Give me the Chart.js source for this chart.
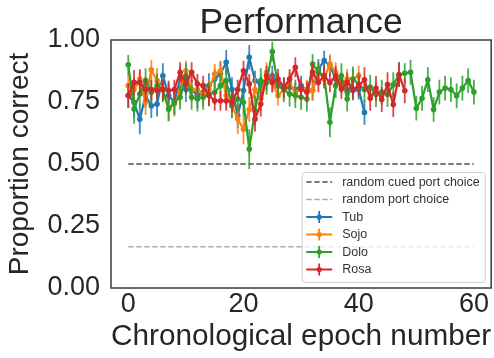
<!DOCTYPE html>
<html><head><meta charset="utf-8">
<script src="https://cdn.jsdelivr.net/npm/chart.js@4.4.1/dist/chart.umd.min.js"></script>
<style>html,body{margin:0;padding:0;background:#fff;}</style>
</head><body>
<canvas id="c" width="494" height="358"></canvas>
<script>
// ---- data ----
const titleText = 'Performance';
const xLabel = 'Chronological epoch number';
const yLabel = 'Proportion correct';
const xTicks = [0, 20, 40, 60];
const yTicks = [0, 0.25, 0.5, 0.75, 1.0];
const seriesNames = ['Tub', 'Sojo', 'Dolo', 'Rosa'];
const refNames = ['random cued port choice', 'random port choice'];
const refValues = [0.5, 1/6];
const refRange = [0, 60];

const tub = [0.776,0.749,0.680,0.776,0.735,0.742,0.856,0.776,0.749,0.843,
 0.800,0.800,0.776,0.789,0.816,0.843,0.863,0.910,0.800,0.695,
 0.796,0.930,0.836,0.816,0.836,0.856,0.816,0.800,0.809,0.800,
 0.816,0.796,0.796,0.883,0.917,0.896,0.843,0.829,0.800,0.796,
 0.800,0.708];
const sojo = [0.816,0.800,0.843,0.749,0.880,0.836,0.800,0.722,0.742,0.789,
 0.876,0.800,0.800,0.782,0.800,0.863,0.876,0.776,0.735,0.681,
 0.640,0.720,0.800,0.762,0.870,0.829,0.776,0.800,0.829,0.789,
 0.800,0.800,0.796,0.870,0.843,0.903,0.870,0.823,0.843,0.843,
 0.856];
const dolo = [0.900,0.722,0.782,0.836,0.789,0.816,0.800,0.722,0.749,0.769,
 0.856,0.769,0.762,0.769,0.782,0.789,0.816,0.836,0.735,0.762,
 0.749,0.560,0.715,0.836,0.829,0.953,0.816,0.800,0.782,0.776,
 0.769,0.762,0.903,0.870,0.856,0.668,0.816,0.856,0.762,0.843,
 0.820,0.800,0.810,0.780,0.790,0.780,0.820,0.860,0.866,0.870,
 0.725,0.765,0.840,0.720,0.790,0.806,0.800,0.775,0.806,0.836,
 0.790];
const rosa = [0.776,0.829,0.829,0.800,0.800,0.796,0.800,0.796,0.800,0.870,
 0.823,0.870,0.823,0.816,0.776,0.755,0.755,0.755,0.749,0.800,
 0.876,0.823,0.681,0.742,0.856,0.829,0.843,0.809,0.843,0.890,
 0.802,0.789,0.870,0.829,0.856,0.829,0.856,0.802,0.829,0.802,
 0.815,0.840,0.765,0.805,0.760,0.820,0.740,0.860,0.795];

const tubErr = [0.05,0.06,0.06,0.05,0.05,0.05,0.05,0.05,0.05,0.05,
 0.05,0.04,0.05,0.04,0.05,0.04,0.05,0.05,0.05,0.05,
 0.05,0.05,0.04,0.04,0.04,0.04,0.04,0.04,0.04,0.04,
 0.04,0.04,0.04,0.04,0.04,0.04,0.04,0.04,0.04,0.04,
 0.04,0.05];
const sojoErr = [0.05,0.05,0.04,0.05,0.04,0.05,0.05,0.05,0.05,0.05,
 0.04,0.05,0.04,0.05,0.04,0.04,0.04,0.05,0.05,0.06,
 0.06,0.05,0.05,0.05,0.04,0.04,0.04,0.04,0.04,0.04,
 0.04,0.04,0.04,0.04,0.04,0.04,0.04,0.04,0.04,0.04,
 0.04];
const doloErr = [0.04,0.06,0.05,0.05,0.05,0.05,0.05,0.05,0.05,0.05,
 0.05,0.05,0.05,0.05,0.05,0.05,0.05,0.05,0.05,0.05,
 0.05,0.08,0.06,0.05,0.05,0.04,0.05,0.05,0.05,0.05,
 0.05,0.05,0.04,0.04,0.05,0.06,0.05,0.05,0.05,0.05,
 0.05,0.05,0.05,0.05,0.05,0.05,0.05,0.05,0.04,0.05,
 0.05,0.05,0.05,0.05,0.05,0.05,0.05,0.05,0.05,0.05,
 0.05];
const rosaErr = [0.05,0.05,0.05,0.05,0.04,0.04,0.04,0.04,0.04,0.04,
 0.04,0.04,0.04,0.04,0.04,0.04,0.04,0.04,0.04,0.04,
 0.04,0.04,0.05,0.05,0.04,0.04,0.04,0.04,0.04,0.04,
 0.04,0.04,0.04,0.04,0.04,0.04,0.04,0.04,0.04,0.04,
 0.04,0.05,0.05,0.05,0.05,0.05,0.05,0.05,0.05];

// ---- styling ----
const FONT = "'Liberation Sans', Arial, Helvetica, sans-serif";
const TEXT = '#262626';
const colors = ['#1f77b4', '#ff7f0e', '#2ca02c', '#d62728'];
const refColors = ['#555555', '#aaaaaa'];
Chart.defaults.font.family = FONT;
Chart.defaults.color = TEXT;

const toPts = arr => arr.map((v, i) => ({x: i, y: v}));
const seriesVals = [tub, sojo, dolo, rosa];
const seriesErrs = [tubErr, sojoErr, doloErr, rosaErr];

const datasets = [];
refValues.forEach((v, k) => {
  datasets.push({
    label: refNames[k],
    data: [{x: refRange[0], y: v}, {x: refRange[1], y: v}],
    borderColor: refColors[k], borderWidth: 1.5, borderDash: [5.5, 2.5],
    pointRadius: 0, fill: false, order: 20 - k
  });
});
seriesVals.forEach((vals, k) => {
  datasets.push({
    label: seriesNames[k], data: toPts(vals), errors: seriesErrs[k],
    borderColor: colors[k], backgroundColor: colors[k], borderWidth: 2.2,
    pointRadius: 2.8, pointBorderWidth: 0, pointHoverRadius: 2.8,
    fill: false, tension: 0, order: 10 - k
  });
});

const errorBars = {
  id: 'errorBars',
  beforeDatasetDraw(chart, args) {
    const ds = chart.data.datasets[args.index];
    if (!ds.errors) return;
    const {ctx, chartArea: a} = chart;
    const xs = chart.scales.x, ys = chart.scales.y;
    ctx.save();
    ctx.beginPath(); ctx.rect(a.left, a.top, a.right - a.left, a.bottom - a.top); ctx.clip();
    ctx.strokeStyle = ds.borderColor; ctx.globalAlpha = 0.85; ctx.lineWidth = 1.8;
    ctx.beginPath();
    ds.data.forEach((p, i) => {
      const e = ds.errors[i] || 0;
      const px = xs.getPixelForValue(p.x);
      ctx.moveTo(px, ys.getPixelForValue(p.y - e));
      ctx.lineTo(px, ys.getPixelForValue(p.y + e));
    });
    ctx.stroke();
    ctx.restore();
  }
};

const frame = {
  id: 'frame',
  afterDatasetsDraw(chart) {
    const {ctx, chartArea: a} = chart;
    ctx.save();
    ctx.strokeStyle = '#3a3a3a'; ctx.lineWidth = 1.5;
    ctx.strokeRect(a.left, a.top, a.right - a.left, a.bottom - a.top);
    ctx.restore();
  }
};

const titlePlugin = {
  id: 'ptitle',
  afterDraw(chart) {
    const {ctx, chartArea: a} = chart;
    ctx.save();
    ctx.font = `35.5px ${FONT}`; ctx.fillStyle = TEXT;
    ctx.textAlign = 'center'; ctx.textBaseline = 'alphabetic';
    ctx.fillText(titleText, (a.left + a.right) / 2, 33);
    ctx.restore();
  }
};

const legendPlugin = {
  id: 'plegend',
  afterDraw(chart) {
    const {ctx, chartArea: a} = chart;
    const bx = a.right - 189, by = a.bottom - 115.5, bw = 183, bh = 110;
    ctx.save();
    ctx.beginPath();
    if (ctx.roundRect) ctx.roundRect(bx, by, bw, bh, 3); else ctx.rect(bx, by, bw, bh);
    ctx.fillStyle = 'rgba(255,255,255,0.8)'; ctx.fill();
    ctx.strokeStyle = '#d0d0d0'; ctx.lineWidth = 1; ctx.stroke();
    const items = [];
    refNames.forEach((n, k) => items.push({name: n, color: refColors[k], dash: true}));
    seriesNames.forEach((n, k) => items.push({name: n, color: colors[k], dash: false}));
    ctx.font = `12.5px ${FONT}`; ctx.textBaseline = 'middle'; ctx.textAlign = 'left';
    items.forEach((it, i) => {
      const cy = by + 9.5 + i * 17.5;
      const hx0 = bx + 4, hx1 = bx + 30, hc = (hx0 + hx1) / 2;
      ctx.strokeStyle = it.color;
      ctx.lineWidth = it.dash ? 1.5 : 2;
      ctx.setLineDash(it.dash ? [5.5, 2.5] : []);
      ctx.beginPath(); ctx.moveTo(hx0, cy); ctx.lineTo(hx1, cy); ctx.stroke();
      ctx.setLineDash([]);
      if (!it.dash) {
        ctx.lineWidth = 1.8;
        ctx.beginPath(); ctx.moveTo(hc, cy - 6); ctx.lineTo(hc, cy + 6); ctx.stroke();
        ctx.fillStyle = it.color;
        ctx.beginPath(); ctx.arc(hc, cy, 2.6, 0, Math.PI * 2); ctx.fill();
      }
      ctx.fillStyle = '#333';
      ctx.fillText(it.name, bx + 40, cy + 0.5);
    });
    ctx.restore();
  }
};

new Chart(document.getElementById('c'), {
  type: 'line',
  data: {datasets},
  options: {
    responsive: false, animation: false, devicePixelRatio: 1,
    layout: {padding: {top: 40, right: 2, left: 0, bottom: 0}},
    plugins: {legend: {display: false}, tooltip: {enabled: false}, title: {display: false}},
    events: [],
    scales: {
      x: {
        type: 'linear', min: -3, max: 63,
        afterBuildTicks: s => { s.ticks = xTicks.map(v => ({value: v})); },
        afterFit: s => { s.height = 70; },
        ticks: {font: {size: 27}, padding: 0, maxRotation: 0, color: TEXT},
        grid: {display: false, drawTicks: false},
        border: {display: false},
        title: {display: true, text: xLabel, font: {size: 30}, color: TEXT, padding: {top: 0, bottom: 3}}
      },
      y: {
        type: 'linear', min: 0, max: 1,
        afterBuildTicks: s => { s.ticks = yTicks.map(v => ({value: v})); },
        afterFit: s => { s.width = 111; },
        ticks: {font: {size: 27}, padding: 11, color: TEXT, callback: v => Number(v).toFixed(2)},
        grid: {display: false, drawTicks: false},
        border: {display: false},
        title: {display: true, text: yLabel, font: {size: 28}, color: TEXT, padding: {top: 3, bottom: 0}}
      }
    }
  },
  plugins: [errorBars, frame, titlePlugin, legendPlugin]
});
</script>
</body></html>
